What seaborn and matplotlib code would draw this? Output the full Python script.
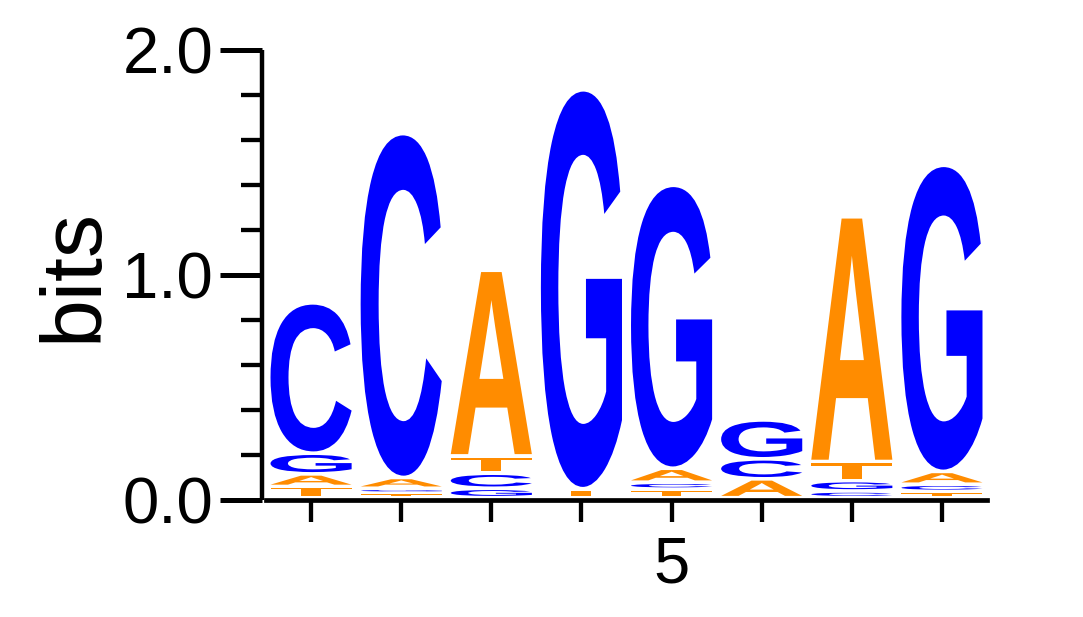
import matplotlib
matplotlib.use("Agg")
import matplotlib.pyplot as plt
import seaborn as sns
from matplotlib.textpath import TextPath
from matplotlib.font_manager import FontProperties
from matplotlib.patches import PathPatch
from matplotlib.transforms import Affine2D
from matplotlib.ticker import MultipleLocator, FixedLocator

# ---- data (bits per letter at each position) ----
positions = [1, 2, 3, 4, 5, 6, 7, 8]
stack_order = ["TAGC", "TGAC", "GCTA", "TG", "TCAG", "ACG", "CGTA", "TCAG"]  # bottom -> top
bits_A = [0.056, 0.048, 0.826, 0.000, 0.062, 0.084, 1.089, 0.057]
bits_C = [0.669, 1.530, 0.067, 0.000, 0.031, 0.089, 0.030, 0.032]
bits_G = [0.092, 0.019, 0.042, 1.775, 1.259, 0.173, 0.046, 1.362]
bits_T = [0.050, 0.023, 0.077, 0.040, 0.038, 0.000, 0.085, 0.028]
letter_colors = {"A": "#FF8C00", "T": "#FF8C00", "C": "#0000FF", "G": "#0000FF"}
y_major_ticks = [0.0, 1.0, 2.0]
y_tick_labels = ["0.0", "1.0", "2.0"]
x_tick_labels = ["", "", "", "", "5", "", "", ""]
y_label = "bits"

heights = {"A": bits_A, "C": bits_C, "G": bits_G, "T": bits_T}

sns.set_theme(style="ticks")
plt.rcParams["font.family"] = ["Liberation Sans", "DejaVu Sans"]

fig = plt.figure(figsize=(10.83, 6.17), dpi=100)
ax = fig.add_axes([266 / 1083, 1 - 499.5 / 617, 721 / 1083, 449.5 / 617])

glyph_font = FontProperties(family="Liberation Sans", weight="bold")


def draw_letter(ax, ch, x, y0, h, width=0.9, gap=0.016):
    gh = max(h - gap, 0.006)
    tp = TextPath((0, 0), ch, size=1, prop=glyph_font)
    bb = tp.get_extents()
    tr = (Affine2D()
          .translate(-bb.x0, -bb.y0)
          .scale(width / bb.width, gh / bb.height)
          .translate(x - width / 2, y0 + h - gh))
    ax.add_patch(PathPatch(tr.transform_path(tp), fc=letter_colors[ch],
                           ec="none", lw=0))


for i, pos in enumerate(positions):
    y = 0.0
    for ch in stack_order[i]:
        h = heights[ch][i]
        if h > 0:
            draw_letter(ax, ch, pos, y, h)
            y += h

ax.set_xlim(0.5, 8.5)
ax.set_ylim(0, 2)

ax.yaxis.set_major_locator(FixedLocator(y_major_ticks))
ax.set_yticklabels(y_tick_labels)
ax.yaxis.set_minor_locator(MultipleLocator(0.2))
ax.set_xticks(positions)
ax.set_xticklabels(x_tick_labels)

sns.despine(ax=ax)
ax.spines["left"].set_position(("outward", 3))
ax.spines["left"].set_linewidth(3.2)
ax.spines["bottom"].set_linewidth(3.4)
ax.spines["left"].set_color("black")
ax.spines["bottom"].set_color("black")
ax.spines["left"].set_capstyle("butt")

ax.tick_params(axis="y", which="major", length=30, width=3.6, color="black",
               labelsize=47, pad=5, labelcolor="black")
ax.tick_params(axis="y", which="minor", length=15, width=3.1, color="black", left=True)
ax.tick_params(axis="x", which="major", length=16, width=3.1, color="black",
               labelsize=47, pad=10, labelcolor="black", bottom=True)

ax.set_ylabel(y_label, fontsize=62, labelpad=6, color="black")
ax.set_facecolor("white")
fig.patch.set_facecolor("white")

fig.savefig("out.png", dpi=100, facecolor="white")
